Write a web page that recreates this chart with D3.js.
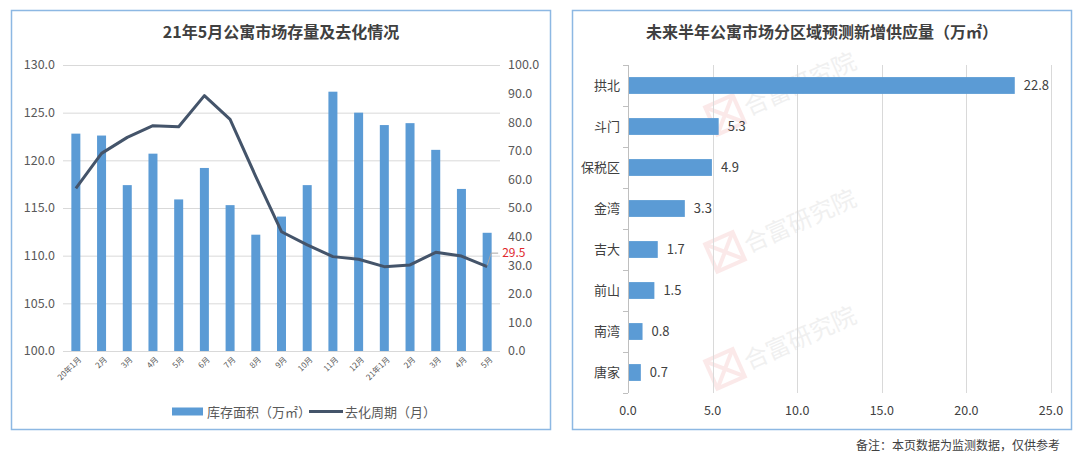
<!DOCTYPE html>
<html><head><meta charset="utf-8">
<script src="https://cdn.jsdelivr.net/npm/d3@7"></script>
<style>
html,body{margin:0;padding:0;background:#fff;}
svg{display:block;font-family:"Noto Sans CJK SC","Noto Sans",sans-serif;}
</style></head>
<body>
<svg id="c" width="1080" height="456"></svg>
<script>
// ---- Left chart data ----
const months = ["20年1月","2月","3月","4月","5月","6月","7月","8月","9月","10月","11月","12月","21年1月","2月 ","3月 ","4月 ","5月 "];
const stockArea = [122.8,122.6,117.4,120.7,115.9,119.2,115.3,112.2,114.1,117.4,127.2,125.0,123.7,123.9,121.1,117.0,112.4];
const cycle = [56.9,69.1,74.7,78.8,78.4,89.3,81.0,61.0,41.7,37.1,33.0,32.1,29.5,30.1,34.5,33.2,29.5];
const leftTicks = [100,105,110,115,120,125,130];
const rightTicks = [0,10,20,30,40,50,60,70,80,90,100];
const leftTitle = "21年5月公寓市场存量及去化情况";
const legendBar = "库存面积（万㎡）";
const legendLine = "去化周期（月）";
const lastLabel = "29.5";

// ---- Right chart data ----
const regions = ["拱北","斗门","保税区","金湾","吉大","前山","南湾","唐家"];
const supply = [22.8,5.3,4.9,3.3,1.7,1.5,0.8,0.7];
const supplyTicks = [0,5,10,15,20,25];
const rightTitle = "未来半年公寓市场分区域预测新增供应量（万㎡）";
const footnote = "备注：本页数据为监测数据，仅供参考";
const watermark = "合富研究院";

const svg = d3.select("#c");
const BLUE = "#5b9bd5", DARK = "#44546a", GRID = "#d9d9d9", TXT = "#595959";

// panels
svg.append("rect").attr("x",11.5).attr("y",10.5).attr("width",539).attr("height",419)
  .attr("fill","none").attr("stroke","#8db8e3").attr("stroke-width",1.5);
svg.append("rect").attr("x",572.5).attr("y",10.5).attr("width",499).attr("height",419)
  .attr("fill","none").attr("stroke","#8db8e3").attr("stroke-width",1.5);

// ================= LEFT =================
const L = svg.append("g");
L.append("text").attr("x",281).attr("y",38).attr("text-anchor","middle")
  .attr("font-size",16).attr("font-weight","bold").attr("fill","#404040").text(leftTitle);

const x = d3.scaleBand().domain(months).range([63,500]).paddingInner(0.65).paddingOuter(0.325);
const yL = d3.scaleLinear().domain([100,130]).range([351,65]);
const yR = d3.scaleLinear().domain([0,100]).range([351,65]);

L.append("g").selectAll("line").data(leftTicks).join("line")
  .attr("x1",63).attr("x2",500).attr("y1",d=>yL(d)+0.5).attr("y2",d=>yL(d)+0.5)
  .attr("stroke",GRID).attr("stroke-width",1);

L.append("g").selectAll("text").data(leftTicks).join("text")
  .attr("x",55).attr("y",d=>yL(d)).attr("dy","0.35em").attr("text-anchor","end")
  .attr("font-size",12.5).attr("fill",TXT).text(d=>d.toFixed(1));
L.append("g").selectAll("text").data(rightTicks).join("text")
  .attr("x",508).attr("y",d=>yR(d)).attr("dy","0.35em").attr("text-anchor","start")
  .attr("font-size",12.5).attr("fill",TXT).text(d=>d.toFixed(1));

L.append("g").selectAll("rect").data(stockArea).join("rect")
  .attr("x",(d,i)=>x(months[i])).attr("width",x.bandwidth())
  .attr("y",d=>yL(d)).attr("height",d=>yL(100)-yL(d)).attr("fill",BLUE);

const cx = (i)=>x(months[i])+x.bandwidth()/2;
L.append("path").datum(cycle)
  .attr("d",d3.line().x((d,i)=>cx(i)).y(d=>yR(d)))
  .attr("fill","none").attr("stroke",DARK).attr("stroke-width",3).attr("stroke-linejoin","round");

// x labels
L.append("g").selectAll("text").data(months).join("text")
  .attr("transform",(d,i)=>`translate(${cx(i)+4},${358}) rotate(-45)`)
  .attr("text-anchor","end").attr("dy","0.35em")
  .attr("font-size",8).attr("fill",TXT).text(d=>d.trim());

// last label with leader
const li = cycle.length-1;
const px = cx(li), py = yR(cycle[li]);
L.append("polyline").attr("points",`${px},${py-1} ${px+4},${py-13.5} ${px+11},${py-13.5}`)
  .attr("fill","none").attr("stroke","#a6a6a6").attr("stroke-width",1);
L.append("text").attr("x",px+15).attr("y",py-14).attr("dy","0.35em")
  .attr("font-size",12).attr("fill","#e0282e").text(lastLabel);

// legend
L.append("rect").attr("x",172).attr("y",407.5).attr("width",31).attr("height",8).attr("fill",BLUE);
L.append("text").attr("x",207).attr("y",412).attr("dy","0.35em").attr("font-size",13).attr("fill",TXT).text(legendBar);
L.append("line").attr("x1",309).attr("x2",343).attr("y1",411.5).attr("y2",411.5).attr("stroke",DARK).attr("stroke-width",3);
L.append("text").attr("x",345).attr("y",412).attr("dy","0.35em").attr("font-size",13).attr("fill",TXT).text(legendLine);

// ================= RIGHT =================
const R = svg.append("g");
R.append("text").attr("x",822).attr("y",38).attr("text-anchor","middle")
  .attr("font-size",16).attr("font-weight","bold").attr("fill","#404040").text(rightTitle);

const xs = d3.scaleLinear().domain([0,25]).range([628,1051]);
const yb = d3.scaleBand().domain(regions).range([65,393]).paddingInner(0.59).paddingOuter(0.295);

// watermarks
[[745,118],[745,255],[745,372]].forEach(([wx,wy])=>{
  const g = R.append("g").attr("transform",`translate(${wx},${wy}) rotate(-24)`).attr("opacity",0.3);
  g.append("rect").attr("x",-32).attr("y",-26).attr("width",30).attr("height",30).attr("fill","none").attr("stroke","#f2b8b8").attr("stroke-width",4);
  g.append("path").attr("d","M-32,-26 L-2,4 M-2,-26 L-32,4").attr("stroke","#f2b8b8").attr("stroke-width",4);
  g.append("text").attr("x",4).attr("y",0).attr("font-size",24).attr("fill","#cfcfcf").text(watermark);
});

R.append("g").selectAll("line").data(supplyTicks.slice(1)).join("line")
  .attr("x1",d=>Math.round(xs(d))+0.5).attr("x2",d=>Math.round(xs(d))+0.5)
  .attr("y1",65).attr("y2",393).attr("stroke",GRID).attr("stroke-width",1);

// y axis line and band ticks
R.append("line").attr("x1",628.5).attr("x2",628.5).attr("y1",65).attr("y2",393).attr("stroke","#bfbfbf");
const bounds = d3.range(regions.length+1).map(i=>65 + i*yb.step());
R.append("g").selectAll("line").data(bounds).join("line")
  .attr("x1",623).attr("x2",628).attr("y1",d=>Math.round(d)+0.5).attr("y2",d=>Math.round(d)+0.5)
  .attr("stroke","#bfbfbf");

R.append("g").selectAll("rect").data(supply).join("rect")
  .attr("x",xs(0)+1).attr("y",(d,i)=>yb(regions[i]))
  .attr("width",d=>xs(d)-xs(0)).attr("height",yb.bandwidth()).attr("fill",BLUE);

R.append("g").selectAll("text").data(supply).join("text")
  .attr("x",d=>xs(d)+10).attr("y",(d,i)=>yb(regions[i])+yb.bandwidth()/2).attr("dy","0.35em")
  .attr("font-size",13).attr("fill","#404040").text(d=>d.toFixed(1));

R.append("g").selectAll("text").data(regions).join("text")
  .attr("x",620).attr("y",d=>yb(d)+yb.bandwidth()/2).attr("dy","0.35em").attr("text-anchor","end")
  .attr("font-size",13).attr("fill","#404040").text(d=>d);

R.append("g").selectAll("text").data(supplyTicks).join("text")
  .attr("x",d=>xs(d)).attr("y",411).attr("dy","0.35em").attr("text-anchor","middle")
  .attr("font-size",12.5).attr("fill","#404040").text(d=>d.toFixed(1));

svg.append("text").attr("x",1060).attr("y",446).attr("dy","0.35em").attr("text-anchor","end")
  .attr("font-size",12).attr("fill","#404040").text(footnote);
</script>
</body></html>
